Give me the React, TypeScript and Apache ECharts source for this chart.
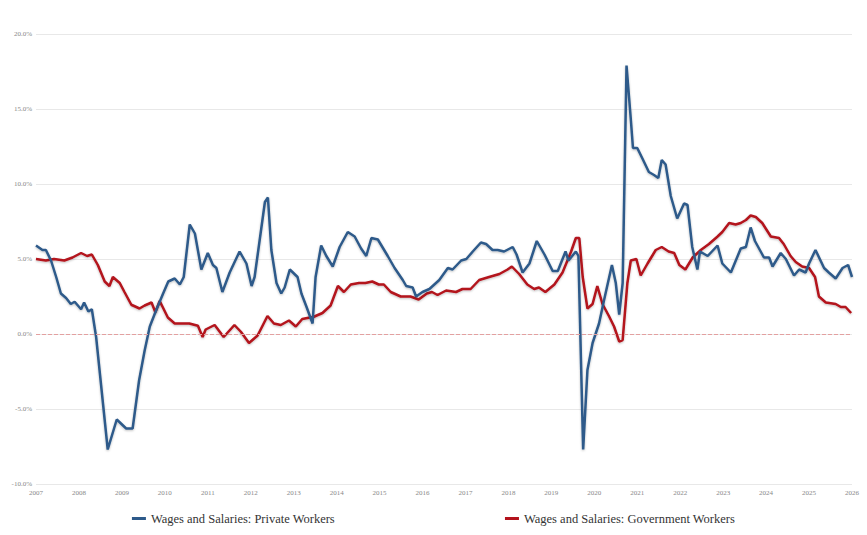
import React, { useEffect, useRef } from 'react'
import * as echarts from 'echarts'

// [decimal year, % y/y]
const privateWorkers: [number, number][] = [
  [2007.0, 5.9], [2007.15, 5.6], [2007.23, 5.6], [2007.35, 4.9], [2007.47, 3.8], [2007.58, 2.7],
  [2007.7, 2.4], [2007.81, 2.0], [2007.9, 2.15], [2008.05, 1.65], [2008.12, 2.1], [2008.22, 1.5],
  [2008.3, 1.65], [2008.4, -0.2], [2008.67, -7.7], [2008.88, -5.7], [2009.1, -6.3], [2009.25, -6.3],
  [2009.4, -3.1], [2009.53, -1.1], [2009.65, 0.5], [2009.8, 1.6], [2009.96, 2.7], [2010.08, 3.5],
  [2010.23, 3.7], [2010.35, 3.3], [2010.44, 3.8], [2010.58, 7.3], [2010.7, 6.7], [2010.85, 4.3],
  [2011.0, 5.4], [2011.12, 4.6], [2011.2, 4.4], [2011.34, 2.8], [2011.51, 4.1], [2011.74, 5.5],
  [2011.9, 4.7], [2012.02, 3.2], [2012.09, 3.8], [2012.21, 6.3], [2012.33, 8.8], [2012.4, 9.1],
  [2012.48, 5.6], [2012.6, 3.4], [2012.71, 2.7], [2012.79, 3.1], [2012.91, 4.3], [2013.09, 3.8],
  [2013.18, 2.7], [2013.3, 1.8], [2013.44, 0.7], [2013.51, 3.8], [2013.64, 5.9], [2013.76, 5.2],
  [2013.91, 4.5], [2014.07, 5.8], [2014.26, 6.8], [2014.42, 6.5], [2014.57, 5.7], [2014.69, 5.2],
  [2014.81, 6.4], [2014.96, 6.3], [2015.19, 5.2], [2015.35, 4.4], [2015.54, 3.6], [2015.62, 3.2],
  [2015.77, 3.1], [2015.85, 2.5], [2016.0, 2.8], [2016.16, 3.0], [2016.39, 3.6], [2016.59, 4.4],
  [2016.7, 4.3], [2016.9, 4.9], [2017.02, 5.0], [2017.17, 5.5], [2017.36, 6.1], [2017.48, 6.0],
  [2017.63, 5.6], [2017.75, 5.6], [2017.9, 5.5], [2018.1, 5.8], [2018.19, 5.3], [2018.33, 4.1],
  [2018.49, 4.7], [2018.66, 6.2], [2018.84, 5.3], [2019.03, 4.2], [2019.15, 4.2], [2019.33, 5.5],
  [2019.4, 4.9], [2019.57, 5.5], [2019.63, 5.2], [2019.74, -7.7], [2019.84, -2.4], [2019.96, -0.6],
  [2020.11, 0.7], [2020.23, 2.3], [2020.41, 4.6], [2020.5, 3.4], [2020.58, 1.3], [2020.66, 3.4],
  [2020.75, 17.9], [2020.85, 14.3], [2020.9, 12.4], [2021.0, 12.4], [2021.12, 11.7], [2021.27, 10.8],
  [2021.39, 10.6], [2021.49, 10.4], [2021.57, 11.6], [2021.66, 11.3], [2021.78, 9.2], [2021.93, 7.7],
  [2022.09, 8.7], [2022.17, 8.6], [2022.28, 5.8], [2022.4, 4.3], [2022.46, 5.5], [2022.64, 5.2],
  [2022.87, 5.9], [2022.98, 4.7], [2023.18, 4.1], [2023.41, 5.7], [2023.53, 5.8], [2023.64, 7.1],
  [2023.74, 6.2], [2023.95, 5.1], [2024.07, 5.1], [2024.15, 4.5], [2024.34, 5.4], [2024.46, 5.0],
  [2024.65, 3.9], [2024.77, 4.3], [2024.92, 4.1], [2025.0, 4.7], [2025.15, 5.6], [2025.35, 4.4],
  [2025.46, 4.1], [2025.62, 3.7], [2025.78, 4.4], [2025.91, 4.6], [2026.0, 3.8],
]

const governmentWorkers: [number, number][] = [
  [2007.0, 5.0], [2007.23, 4.9], [2007.42, 5.0], [2007.66, 4.9], [2007.85, 5.1], [2008.05, 5.4],
  [2008.19, 5.2], [2008.3, 5.3], [2008.44, 4.6], [2008.6, 3.5], [2008.71, 3.2], [2008.79, 3.8],
  [2008.95, 3.4], [2009.06, 2.8], [2009.22, 1.95], [2009.41, 1.7], [2009.53, 1.9], [2009.69, 2.1],
  [2009.78, 1.45], [2009.88, 2.2], [2010.07, 1.1], [2010.23, 0.7], [2010.42, 0.7], [2010.57, 0.7],
  [2010.77, 0.55], [2010.88, -0.2], [2010.95, 0.3], [2011.16, 0.6], [2011.37, -0.2], [2011.62, 0.6],
  [2011.77, 0.15], [2011.96, -0.6], [2012.16, -0.1], [2012.39, 1.2], [2012.54, 0.7], [2012.7, 0.6],
  [2012.89, 0.9], [2013.05, 0.5], [2013.2, 1.0], [2013.47, 1.15], [2013.67, 1.4], [2013.86, 1.9],
  [2014.03, 3.2], [2014.17, 2.8], [2014.33, 3.3], [2014.52, 3.4], [2014.67, 3.4], [2014.83, 3.5],
  [2014.98, 3.3], [2015.1, 3.3], [2015.26, 2.8], [2015.49, 2.5], [2015.72, 2.5], [2015.91, 2.3],
  [2016.1, 2.7], [2016.22, 2.8], [2016.35, 2.6], [2016.55, 2.9], [2016.78, 2.8], [2016.93, 3.0],
  [2017.12, 3.0], [2017.32, 3.6], [2017.55, 3.8], [2017.79, 4.0], [2017.98, 4.3], [2018.08, 4.5],
  [2018.25, 4.0], [2018.44, 3.3], [2018.6, 3.0], [2018.71, 3.1], [2018.86, 2.8], [2019.07, 3.3],
  [2019.26, 4.1], [2019.46, 5.5], [2019.57, 6.4], [2019.65, 6.4], [2019.73, 3.8], [2019.84, 1.7],
  [2019.96, 2.0], [2020.07, 3.2], [2020.19, 2.0], [2020.34, 1.2], [2020.46, 0.5], [2020.58, -0.5],
  [2020.66, -0.4], [2020.77, 3.4], [2020.85, 4.9], [2020.98, 5.0], [2021.08, 3.9], [2021.24, 4.7],
  [2021.43, 5.6], [2021.57, 5.8], [2021.73, 5.5], [2021.86, 5.4], [2021.98, 4.6], [2022.12, 4.3],
  [2022.29, 5.1], [2022.48, 5.6], [2022.67, 6.0], [2022.87, 6.5], [2022.98, 6.8], [2023.14, 7.4],
  [2023.29, 7.3], [2023.41, 7.4], [2023.53, 7.6], [2023.64, 7.9], [2023.76, 7.8], [2023.91, 7.4],
  [2024.11, 6.5], [2024.3, 6.4], [2024.41, 6.0], [2024.57, 5.2], [2024.69, 4.8], [2024.84, 4.5],
  [2025.0, 4.4], [2025.14, 3.8], [2025.23, 2.5], [2025.39, 2.1], [2025.62, 2.0], [2025.74, 1.8],
  [2025.85, 1.8], [2025.98, 1.4],
]

const seriesNames = ['Wages and Salaries: Private Workers', 'Wages and Salaries: Government Workers']
const seriesColors = ['#2d5a8a', '#b3121c']

const App: React.FC = () => {
  const chartRef = useRef<HTMLDivElement>(null)

  useEffect(() => {
    document.body.style.margin = '0'
    if (!chartRef.current) return
    const chart = echarts.init(chartRef.current, undefined, { renderer: 'svg' })
    const font = "'Liberation Serif', 'DejaVu Serif', serif"

    chart.setOption({
      animation: false,
      backgroundColor: '#ffffff',
      grid: { left: 36, right: 15, top: 34, bottom: 51 },
      legend: {
        bottom: 5,
        left: 'center',
        itemGap: 170,
        itemWidth: 14,
        itemHeight: 3,
        icon: 'rect',
        textStyle: { fontFamily: font, fontSize: 12.5, color: '#333' },
        data: seriesNames,
      },
      xAxis: {
        type: 'value',
        min: 2007,
        max: 2026,
        interval: 1,
        axisLine: { show: false },
        axisTick: { show: false },
        splitLine: { show: false },
        axisLabel: { fontFamily: font, fontSize: 7, color: '#888', margin: 5, formatter: (v: number) => String(v) },
      },
      yAxis: {
        type: 'value',
        min: -10,
        max: 20,
        interval: 5,
        axisLine: { show: false },
        axisTick: { show: false },
        splitLine: { lineStyle: { color: '#e8e8e8', width: 1 } },
        axisLabel: { fontFamily: font, fontSize: 7, color: '#888', margin: 4, formatter: (v: number) => v.toFixed(1) + '%' },
      },
      series: [
        {
          name: seriesNames[0],
          type: 'line',
          data: privateWorkers,
          showSymbol: false,
          color: seriesColors[0],
          lineStyle: { width: 2.5, shadowColor: 'rgba(0,0,0,0.25)', shadowBlur: 2, shadowOffsetY: 1 },
          z: 3,
        },
        {
          name: seriesNames[1],
          type: 'line',
          data: governmentWorkers,
          showSymbol: false,
          color: seriesColors[1],
          lineStyle: { width: 2.5, shadowColor: 'rgba(0,0,0,0.25)', shadowBlur: 2, shadowOffsetY: 1 },
          z: 2,
          markLine: {
            silent: true,
            symbol: 'none',
            label: { show: false },
            lineStyle: { color: '#e3a0a0', type: 'dashed', width: 1 },
            data: [{ yAxis: 0 }],
          },
        },
      ],
    })

    return () => {
      chart.dispose()
    }
  }, [])

  return <div ref={chartRef} style={{ width: 867, height: 535 }} />
}

export default App
